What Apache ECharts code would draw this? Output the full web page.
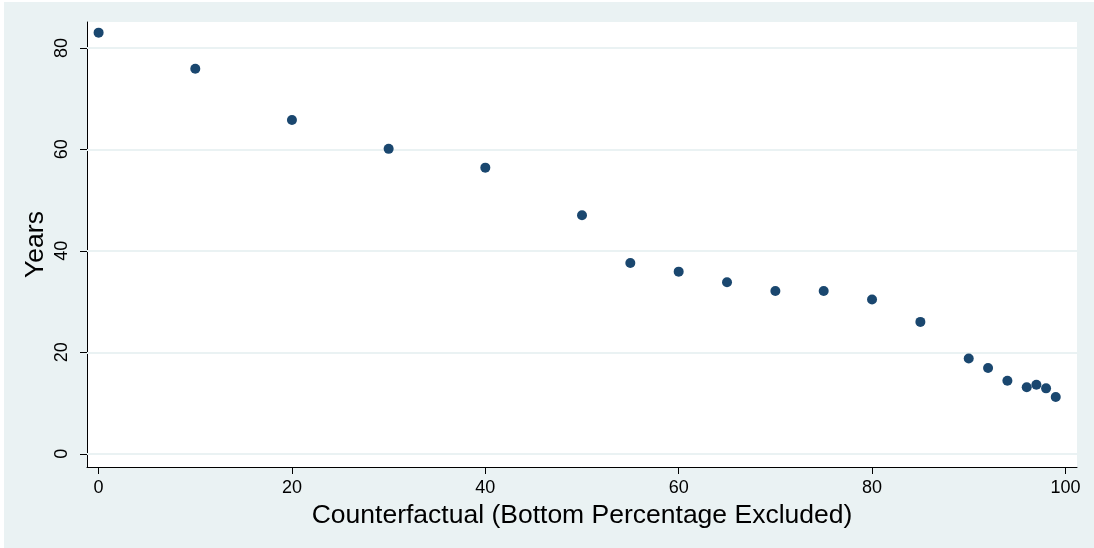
<!DOCTYPE html>
<html>
<head>
<meta charset="utf-8">
<script src="https://cdn.jsdelivr.net/npm/echarts@6/dist/echarts.min.js"></script>
<style>
html,body{margin:0;padding:0;background:#ffffff;width:1094px;height:548px;overflow:hidden;}
#chart{position:absolute;left:4px;top:2px;width:1090px;height:546px;}
</style>
</head>
<body>
<div id="chart"></div>
<script>
const xValues = [0, 10, 20, 30, 40, 50, 55, 60, 65, 70, 75, 80, 85, 90, 92, 94, 96, 97, 98, 99];
const yValues = [83.0, 75.9, 65.8, 60.1, 56.4, 47.0, 37.6, 35.9, 33.8, 32.1, 32.1, 30.4, 26.0, 18.8, 16.9, 14.4, 13.1, 13.6, 12.9, 11.2];
const xTicks = [0, 20, 40, 60, 80, 100];
const yTicks = [0, 20, 40, 60, 80];
const xTitle = 'Counterfactual (Bottom Percentage Excluded)';
const yTitle = 'Years';

const points = xValues.map((x, i) => [x, yValues[i]]);
const font = '"Liberation Sans", Arial, sans-serif';

const chart = echarts.init(document.getElementById('chart'), null, {renderer: 'canvas'});
chart.setOption({
  animation: false,
  backgroundColor: '#EAF2F3',
  grid: {
    left: 83, top: 20, right: 17, bottom: 81,
    show: true, backgroundColor: '#ffffff', borderWidth: 0
  },
  xAxis: {
    type: 'value', min: -1.2, max: 101.2,
    name: xTitle, nameLocation: 'middle', nameGap: 32,
    nameTextStyle: {fontFamily: font, fontSize: 26.5, color: '#000'},
    axisLine: {show: true, onZero: false, lineStyle: {color: '#000', width: 1}},
    axisTick: {show: true, length: 7, customValues: xTicks, lineStyle: {color: '#000'}},
    axisLabel: {customValues: xTicks, margin: 12, fontFamily: font, fontSize: 18, color: '#000'},
    splitLine: {show: false}
  },
  yAxis: {
    type: 'value', min: -2.6, max: 85.1,
    name: yTitle, nameLocation: 'middle', nameGap: 38, nameRotate: 90, nameMoveOverlap: false,
    nameTextStyle: {fontFamily: font, fontSize: 26.5, color: '#000'},
    axisLine: {show: true, onZero: false, lineStyle: {color: '#000', width: 1}},
    axisTick: {show: true, length: 7, customValues: yTicks, lineStyle: {color: '#000'}},
    axisLabel: {customValues: yTicks, rotate: 90, margin: 16, fontFamily: font, fontSize: 18, color: '#000'},
    splitLine: {show: false}
  },
  series: [{
    type: 'scatter',
    data: points,
    symbol: 'circle',
    symbolSize: 10,
    itemStyle: {color: '#1A476F', opacity: 1},
    z: 3,
    markLine: {
      silent: true,
      symbol: 'none',
      label: {show: false},
      lineStyle: {color: '#EAF2F3', width: 2, type: 'solid'},
      data: yTicks.map(v => ({yAxis: v})),
      z: 1
    }
  }]
});
</script>
</body>
</html>
